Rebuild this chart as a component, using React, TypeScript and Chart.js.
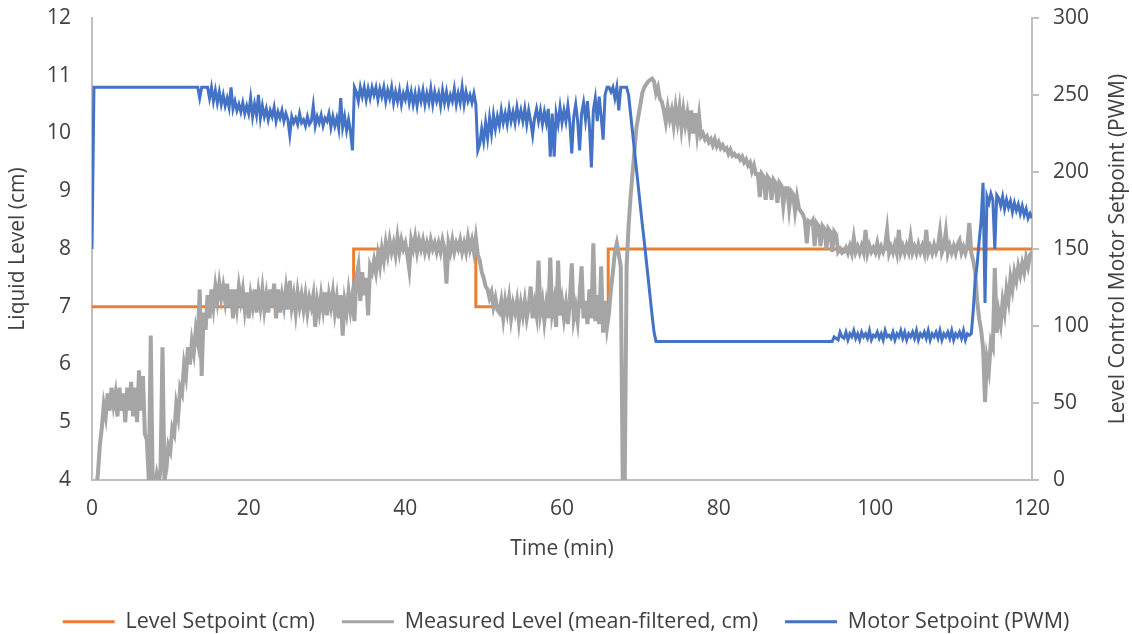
import React, { useEffect, useRef } from "react";
import { Chart, registerables } from "chart.js";

Chart.register(...registerables);

// ---------- data ----------
const xTickLabels = [0, 20, 40, 60, 80, 100, 120];
const leftTickLabels = [4, 5, 6, 7, 8, 9, 10, 11, 12];
const rightTickLabels = [0, 50, 100, 150, 200, 250, 300];

const seriesNames = [
  "Level Setpoint (cm)",
  "Measured Level (mean-filtered, cm)",
  "Motor Setpoint (PWM)",
];
const xAxisTitle = "Time (min)";
const leftAxisTitle = "Liquid Level (cm)";
const rightAxisTitle = "Level Control Motor Setpoint (PWM)";

// Level setpoint (step changes)
const setpointTime = [0, 33.4, 33.4, 49.0, 49.0, 65.9, 65.9, 120];
const setpointLevel = [7, 7, 8, 8, 7, 7, 8, 8];

// Measured level and motor setpoint, sampled every 0.25 min from 0 to 120 min
const sampleStepMin = 0.25;

const measuredLevel = [
  3.5, 3.6, 3.8, 4.1, 4.6, 4.9, 5.3, 5.1, 5.5, 5.2, 5.6, 5.3, 5.5, 5.1, 5.6, 5.2, 5.5, 5.0, 5.6, 5.2,
  5.7, 5.1, 5.6, 5.0, 5.9, 5.2, 5.8, 4.8, 4.7, 4.0, 6.5, 3.9, 3.9, 4.1, 3.9, 4.2, 6.3, 4.0, 4.2, 4.6,
  4.5, 4.9, 4.8, 5.3, 5.1, 5.6, 5.5, 6.0, 5.8, 6.3, 6.0, 6.4, 6.2, 6.6, 6.4, 7.3, 5.8, 6.9, 6.6, 7.2,
  6.8, 7.3, 7.0, 7.35, 7.1, 7.4, 7.15, 7.35, 7.1, 7.4, 7.0, 7.3, 6.8, 7.3, 7.0, 7.35, 7.1, 7.3, 6.95, 7.25,
  6.8, 7.2, 7.0, 7.3, 6.9, 7.25, 7.0, 7.3, 6.95, 7.2, 6.9, 7.3, 7.0, 7.4, 6.8, 7.3, 6.9, 7.2, 7.0, 7.3,
  6.95, 7.45, 7.0, 7.2, 6.9, 7.25, 7.0, 7.2, 6.95, 7.2, 6.9, 7.15, 7.0, 7.2, 6.65, 7.1, 6.9, 7.2, 6.95, 7.25,
  6.85, 7.2, 7.0, 7.25, 6.9, 7.15, 6.8, 7.2, 6.5, 7.1, 6.9, 7.25, 6.95, 7.2, 6.75, 7.5, 7.7, 7.1, 7.6, 7.2,
  7.5, 6.85, 7.7, 7.6, 7.8, 7.6, 7.9, 7.7, 8.0, 7.8, 8.1, 7.9, 8.15, 7.95, 8.1, 7.9, 8.2, 7.95, 8.15, 8.0,
  8.1, 7.9, 7.65, 8.15, 8.0, 8.2, 7.95, 8.15, 8.0, 8.15, 7.95, 8.1, 7.95, 8.15, 8.0, 8.1, 7.95, 8.1, 7.95, 8.15,
  8.0, 7.4, 8.1, 7.95, 8.15, 7.95, 8.1, 8.0, 8.15, 7.95, 8.1, 7.95, 8.2, 8.0, 8.15, 7.95, 8.2, 7.9, 7.8, 7.6,
  7.5, 7.35, 7.3, 7.15, 7.25, 7.0, 7.15, 6.95, 6.9, 7.1, 6.8, 7.1, 6.9, 7.15, 6.8, 7.05, 6.9, 7.1, 6.75, 7.05,
  6.85, 7.1, 6.8, 7.0, 7.35, 6.8, 7.05, 6.85, 7.8, 6.9, 7.1, 6.75, 7.05, 6.8, 7.85, 6.9, 7.1, 6.65, 7.8, 6.85,
  7.1, 6.8, 7.05, 6.7, 7.1, 7.75, 6.8, 7.0, 6.75, 7.2, 7.7, 6.8, 7.1, 6.7, 7.3, 6.8, 8.1, 6.75, 7.2, 6.7,
  7.7, 6.55, 7.1, 6.65, 6.9, 7.3, 7.6, 7.95, 8.1, 7.9, 7.7, 4.0, 3.8, 7.7, 8.4, 8.9, 9.3, 9.7, 10.1, 10.3,
  10.5, 10.7, 10.8, 10.85, 10.9, 10.93, 10.95, 10.9, 10.7, 10.8, 10.6, 10.55, 10.4, 10.2, 10.45, 10.25, 10.4, 10.15, 10.45, 10.2,
  10.45, 10.1, 10.4, 10.15, 10.35, 10.05, 10.4, 10.0, 10.35, 10.0, 10.3, 9.95, 10.0, 9.9, 9.95, 9.85, 9.9, 9.8, 9.9, 9.78,
  9.85, 9.75, 9.8, 9.72, 9.75, 9.65, 9.72, 9.62, 9.65, 9.6, 9.62, 9.55, 9.6, 9.5, 9.55, 9.45, 9.5, 9.35, 9.45, 9.3,
  9.3, 8.9, 9.3, 9.25, 8.85, 9.25, 9.2, 8.85, 9.2, 9.15, 8.8, 9.15, 9.1, 8.75, 9.05, 9.05, 8.7, 9.0, 8.95, 8.65,
  8.9, 8.7, 8.65, 8.6, 8.5, 8.1, 8.48, 8.45, 8.5, 8.05, 8.45, 8.4, 8.05, 8.4, 8.35, 8.0, 8.35, 8.3, 7.95, 8.3,
  8.25, 7.95, 8.0, 7.93, 7.95, 8.02, 7.93, 8.05, 7.93, 8.19, 7.95, 8.04, 7.93, 8.05, 7.94, 8.33, 7.93, 8.06, 7.95, 8.02,
  7.94, 8.1, 7.93, 8.04, 7.95, 8.05, 8.33, 7.93, 8.04, 7.94, 8.08, 7.93, 8.33, 7.94, 8.05, 7.93, 8.06, 7.95, 8.2, 7.94,
  8.04, 7.93, 8.08, 7.95, 8.05, 7.93, 8.33, 7.94, 8.04, 7.93, 8.07, 7.95, 8.05, 8.3, 7.94, 8.04, 8.3, 7.93, 8.06, 7.94,
  8.05, 7.93, 8.08, 8.15, 7.94, 8.04, 7.93, 8.06, 8.45, 7.93, 7.8, 7.6, 7.1, 6.8, 6.6, 6.3, 5.35, 6.1, 5.9, 6.4,
  6.3, 7.67, 6.55, 6.9, 6.7, 7.1, 6.9, 7.3, 7.1, 7.5, 7.3, 7.6, 7.45, 7.7, 7.55, 7.75, 7.6, 7.85, 7.7, 7.9,
  7.95,
];

const motorSetpoint = [
  150, 255, 255, 255, 255, 255, 255, 255, 255, 255, 255, 255, 255, 255, 255, 255, 255, 255, 255, 255,
  255, 255, 255, 255, 255, 255, 255, 255, 255, 255, 255, 255, 255, 255, 255, 255, 255, 255, 255, 255,
  255, 255, 255, 255, 255, 255, 255, 255, 255, 255, 255, 255, 255, 255, 255, 248, 255, 255, 255, 255,
  248, 255, 246, 253, 245, 252, 244, 250, 243, 248, 242, 255, 241, 246, 240, 244, 239, 245, 238, 243,
  238, 248, 236, 244, 237, 250, 235, 243, 236, 241, 234, 240, 236, 242, 233, 239, 235, 240, 233, 238,
  234, 224, 236, 232, 235, 231, 238, 232, 234, 230, 236, 231, 233, 243, 230, 236, 232, 237, 230, 235,
  233, 238, 229, 236, 230, 235, 228, 248, 229, 236, 227, 234, 226, 214, 255, 252, 246, 255, 249, 255,
  247, 254, 248, 255, 250, 255, 247, 254, 249, 255, 246, 253, 248, 255, 245, 252, 246, 253, 244, 251,
  247, 254, 245, 252, 244, 251, 243, 252, 246, 253, 244, 251, 245, 254, 244, 252, 246, 251, 243, 253,
  245, 252, 244, 250, 246, 254, 244, 251, 245, 255, 244, 252, 246, 250, 245, 251, 244, 214, 218, 228,
  220, 232, 222, 235, 225, 237, 228, 236, 230, 240, 232, 238, 231, 241, 233, 239, 232, 242, 234, 240,
  233, 241, 231, 240, 233, 224, 235, 241, 233, 240, 231, 239, 232, 241, 210, 238, 210, 238, 231, 242,
  232, 240, 233, 243, 232, 212, 236, 244, 233, 214, 238, 245, 234, 246, 230, 203, 240, 248, 233, 249,
  236, 221, 250, 255, 255, 252, 255, 248, 255, 240, 255, 255, 255, 255, 250, 238, 226, 214, 202, 190,
  178, 166, 155, 143, 131, 119, 107, 96, 90, 90, 90, 90, 90, 90, 90, 90, 90, 90, 90, 90,
  90, 90, 90, 90, 90, 90, 90, 90, 90, 90, 90, 90, 90, 90, 90, 90, 90, 90, 90, 90,
  90, 90, 90, 90, 90, 90, 90, 90, 90, 90, 90, 90, 90, 90, 90, 90, 90, 90, 90, 90,
  90, 90, 90, 90, 90, 90, 90, 90, 90, 90, 90, 90, 90, 90, 90, 90, 90, 90, 90, 90,
  90, 90, 90, 90, 90, 90, 90, 90, 90, 90, 90, 90, 90, 90, 90, 90, 90, 90, 90, 93,
  92, 91, 96, 93, 92, 96, 91, 95, 93, 97, 92, 95, 91, 96, 93, 95, 92, 97, 91, 94,
  93, 96, 92, 95, 91, 97, 93, 94, 92, 96, 91, 95, 93, 97, 92, 96, 91, 95, 93, 96,
  92, 97, 91, 95, 93, 96, 92, 97, 91, 95, 93, 96, 92, 97, 91, 95, 93, 96, 92, 97,
  91, 95, 93, 96, 92, 97, 91, 95, 94, 95, 110, 130, 140, 155, 168, 193, 115, 184, 180, 186,
  182, 150, 185, 183, 178, 184, 176, 182, 177, 181, 174, 180, 175, 179, 173, 178, 172, 176, 170, 173,
  170,
];

// ---------- styles ----------
const ORANGE = "#ED7D31";
const GRAY = "#A5A5A5";
const BLUE = "#4472C4";
const AXIS = "#BFBFBF";
const TEXT = "#404040";
const FONT = "'Open Sans', 'Liberation Sans', sans-serif";
const TICK_SIZE = 21;
const TITLE_SIZE = 21;
const LEGEND_SIZE = 21.5;

const rightTitlePlugin = {
  id: "rightTitle",
  afterDraw(chart: any) {
    const { ctx, chartArea } = chart;
    const scale = chart.scales.y1;
    ctx.save();
    ctx.translate(scale.right - 14, (chartArea.top + chartArea.bottom) / 2);
    ctx.rotate(-Math.PI / 2);
    ctx.font = `${TITLE_SIZE}px ${FONT}`;
    ctx.fillStyle = TEXT;
    ctx.textAlign = "center";
    ctx.textBaseline = "middle";
    ctx.fillText(rightAxisTitle, 0, 0);
    ctx.restore();
  },
};

export default function App() {
  const ref = useRef<HTMLCanvasElement>(null);

  useEffect(() => {
    document.body.style.margin = "0";
    const canvas = ref.current;
    if (!canvas) return;

    const setpointData = setpointTime.map((t, i) => ({ x: t, y: setpointLevel[i] }));
    const measuredData = measuredLevel.map((v, i) => ({ x: i * sampleStepMin, y: v }));
    const motorData = motorSetpoint.map((v, i) => ({ x: i * sampleStepMin, y: v }));

    const chart = new Chart(canvas, {
      type: "line",
      data: {
        datasets: [
          {
            label: seriesNames[0],
            data: setpointData,
            borderColor: ORANGE,
            backgroundColor: ORANGE,
            borderWidth: 3,
            pointRadius: 0,
            tension: 0,
            yAxisID: "y",
            order: 3,
          },
          {
            label: seriesNames[1],
            data: measuredData,
            borderColor: GRAY,
            backgroundColor: GRAY,
            borderWidth: 4,
            pointRadius: 0,
            tension: 0,
            yAxisID: "y",
            order: 2,
          },
          {
            label: seriesNames[2],
            data: motorData,
            borderColor: BLUE,
            backgroundColor: BLUE,
            borderWidth: 3,
            pointRadius: 0,
            tension: 0,
            yAxisID: "y1",
            order: 1,
          },
        ],
      },
      options: {
        animation: false,
        responsive: false,
        maintainAspectRatio: false,
        layout: { padding: { left: 0, right: 0, top: 18, bottom: 0 } },
        plugins: {
          tooltip: { enabled: false },
          legend: {
            position: "bottom",
            reverse: true,
            maxHeight: 50,
            labels: {
              boxWidth: 52,
              boxHeight: 3,
              padding: 27,
              color: TEXT,
              font: { family: FONT, size: LEGEND_SIZE },
              generateLabels: (c: any) =>
                Chart.defaults.plugins.legend.labels
                  .generateLabels(c)
                  .map((l: any) => ({ ...l, lineWidth: 0 })),
            },
          },
        },
        scales: {
          x: {
            type: "linear",
            min: 0,
            max: 120,
            afterBuildTicks: (s: any) => {
              s.ticks = xTickLabels.map((v) => ({ value: v }));
            },
            afterFit: (s: any) => {
              s.height = 104;
              s.paddingLeft = 0;
              s.paddingRight = 0;
            },
            grid: { display: false, drawTicks: false },
            border: { display: true, color: AXIS, width: 2 },
            ticks: { color: TEXT, font: { family: FONT, size: TICK_SIZE }, padding: 16, maxRotation: 0 },
            title: {
              display: true,
              text: xAxisTitle,
              color: TEXT,
              font: { family: FONT, size: TITLE_SIZE },
              padding: { top: 0, bottom: 22 },
            },
          },
          y: {
            type: "linear",
            position: "left",
            min: 4,
            max: 12,
            afterBuildTicks: (s: any) => {
              s.ticks = leftTickLabels.map((v) => ({ value: v }));
            },
            afterFit: (s: any) => {
              s.width = 92;
              s.paddingTop = 0;
              s.paddingBottom = 0;
            },
            grid: { display: false, drawTicks: false },
            border: { display: true, color: AXIS, width: 2 },
            ticks: { color: TEXT, font: { family: FONT, size: TICK_SIZE }, padding: 21 },
            title: {
              display: true,
              text: leftAxisTitle,
              color: TEXT,
              font: { family: FONT, size: TITLE_SIZE },
              padding: { top: 5, bottom: 0 },
            },
          },
          y1: {
            type: "linear",
            position: "right",
            min: 0,
            max: 300,
            afterBuildTicks: (s: any) => {
              s.ticks = rightTickLabels.map((v) => ({ value: v }));
            },
            afterFit: (s: any) => {
              s.width = 100;
              s.paddingTop = 0;
              s.paddingBottom = 0;
            },
            grid: {
              display: true,
              drawOnChartArea: false,
              drawTicks: true,
              tickLength: 7,
              color: AXIS,
              lineWidth: 2,
            },
            border: { display: true, color: AXIS, width: 2 },
            ticks: { color: TEXT, font: { family: FONT, size: TICK_SIZE }, padding: 14 },
          },
        },
      },
      plugins: [rightTitlePlugin],
    });

    return () => chart.destroy();
  }, []);

  return (
    <div style={{ width: 1132, height: 634, background: "#fff" }}>
      <canvas ref={ref} width={1132} height={634} style={{ display: "block" }} />
    </div>
  );
}
